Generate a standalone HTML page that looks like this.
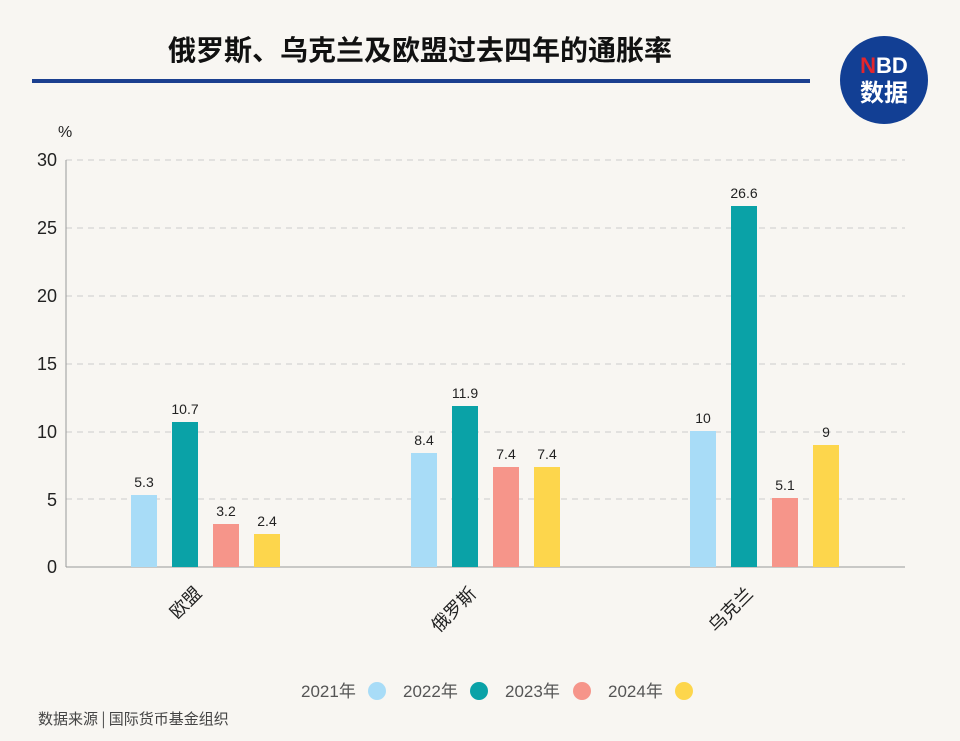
<!DOCTYPE html>
<html><head><meta charset="utf-8"><style>
html,body{margin:0;padding:0;background:#f8f6f2;}
svg{display:block;font-family:"Liberation Sans","Noto Sans CJK SC",sans-serif;}
</style></head><body>
<svg width="960" height="741" viewBox="0 0 960 741" xmlns="http://www.w3.org/2000/svg">
<rect width="960" height="741" fill="#f8f6f2"/>
<text x="420" y="60" font-size="28" font-weight="bold" fill="#111" text-anchor="middle" font-family="Noto Sans CJK SC,sans-serif">俄罗斯、乌克兰及欧盟过去四年的通胀率</text>
<rect x="32" y="79" width="778" height="4" fill="#1b3f8f"/>
<circle cx="884" cy="80" r="44" fill="#123f94"/>
<text x="884" y="73" font-size="22" font-weight="bold" fill="#fff" text-anchor="middle"><tspan fill="#e3262d">N</tspan>BD</text>
<text x="884" y="101" font-size="24" font-weight="bold" fill="#fff" text-anchor="middle" font-family="Noto Sans CJK SC,sans-serif">数据</text>
<text x="58" y="137" font-size="16" fill="#222">%</text>
<g stroke="#ccc" stroke-dasharray="6,5" stroke-width="1">
<line x1="66" y1="160" x2="905" y2="160"/><line x1="66" y1="228" x2="905" y2="228"/>
<line x1="66" y1="296" x2="905" y2="296"/><line x1="66" y1="364" x2="905" y2="364"/>
<line x1="66" y1="432" x2="905" y2="432"/><line x1="66" y1="499" x2="905" y2="499"/>
</g>
<line x1="66" y1="160" x2="66" y2="567" stroke="#999"/>
<line x1="66" y1="567" x2="905" y2="567" stroke="#999"/>
<g font-size="18" fill="#222" text-anchor="end">
<text x="57" y="166">30</text><text x="57" y="234">25</text><text x="57" y="302">20</text>
<text x="57" y="370">15</text><text x="57" y="438">10</text><text x="57" y="506">5</text><text x="57" y="573">0</text>
</g>
<g>
<rect x="131" y="495" width="26" height="72" fill="#a8dcf7"/>
<rect x="172" y="422" width="26" height="145" fill="#0aa2a7"/>
<rect x="213" y="524" width="26" height="43" fill="#f6958a"/>
<rect x="254" y="534" width="26" height="33" fill="#fdd64c"/>
<rect x="411" y="453" width="26" height="114" fill="#a8dcf7"/>
<rect x="452" y="406" width="26" height="161" fill="#0aa2a7"/>
<rect x="493" y="467" width="26" height="100" fill="#f6958a"/>
<rect x="534" y="467" width="26" height="100" fill="#fdd64c"/>
<rect x="690" y="431" width="26" height="136" fill="#a8dcf7"/>
<rect x="731" y="206" width="26" height="361" fill="#0aa2a7"/>
<rect x="772" y="498" width="26" height="69" fill="#f6958a"/>
<rect x="813" y="445" width="26" height="122" fill="#fdd64c"/>
</g>
<g font-size="14" fill="#222" text-anchor="middle">
<text x="144" y="487">5.3</text><text x="185" y="414">10.7</text><text x="226" y="516">3.2</text><text x="267" y="526">2.4</text>
<text x="424" y="445">8.4</text><text x="465" y="398">11.9</text><text x="506" y="459">7.4</text><text x="547" y="459">7.4</text>
<text x="703" y="423">10</text><text x="744" y="198">26.6</text><text x="785" y="490">5.1</text><text x="826" y="437">9</text>
</g>
<g font-size="18" fill="#222" text-anchor="middle" font-family="Noto Sans CJK SC,sans-serif">
<text transform="translate(190,607) rotate(-45)">欧盟</text>
<text transform="translate(458,614) rotate(-45)">俄罗斯</text>
<text transform="translate(735,614) rotate(-45)">乌克兰</text>
</g>
<g font-size="17" fill="#555" font-family="Liberation Sans,Noto Sans CJK SC,sans-serif">
<text x="301" y="697">2021年</text><circle cx="377" cy="691" r="9" fill="#a8dcf7"/>
<text x="403" y="697">2022年</text><circle cx="479" cy="691" r="9" fill="#0aa2a7"/>
<text x="505" y="697">2023年</text><circle cx="582" cy="691" r="9" fill="#f6958a"/>
<text x="608" y="697">2024年</text><circle cx="684" cy="691" r="9" fill="#fdd64c"/>
</g>
<text x="38" y="724" font-size="15" fill="#444" font-family="Noto Sans CJK SC,sans-serif">数据来源 | 国际货币基金组织</text>
</svg>
</body></html>
